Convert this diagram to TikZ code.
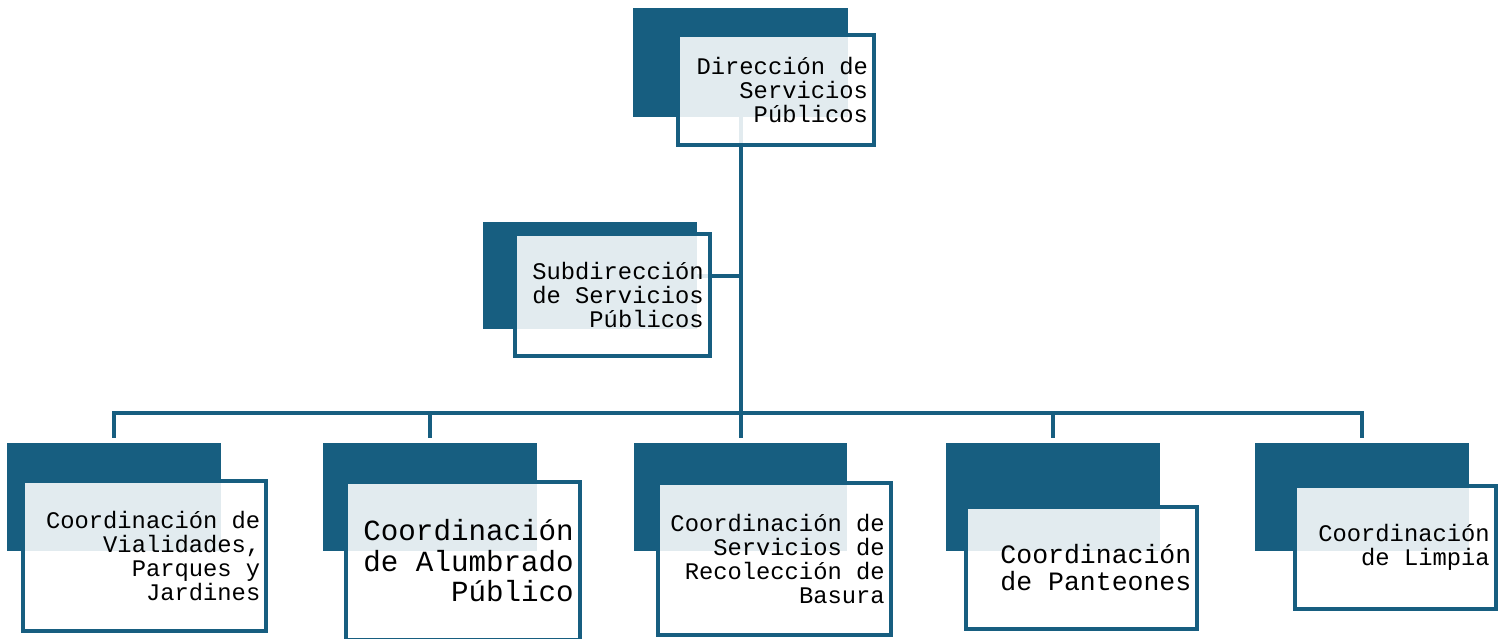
\documentclass[tikz,border=0pt]{standalone}
\usepackage{fontspec}
\usepackage{tikz}
\usetikzlibrary{backgrounds}
\newfontfamily\orgmono{Liberation Mono}
\definecolor{orgblue}{RGB}{23,94,128}
\newcommand{\monosize}[2]{\orgmono\fontsize{#1}{#2}\selectfont}

\begin{document}
\begin{tikzpicture}[x=1pt,y=-1pt,
        darkbox/.style={fill=orgblue,inner sep=0pt,outer sep=0pt,anchor=north west,
          minimum width=214pt,minimum height=108pt},
        lightbox/.style={draw=orgblue,line width=4pt,fill=white,fill opacity=0.88,
          text opacity=1,anchor=north west,inner sep=6pt,align=flush right,
          font=\monosize{23.8}{24.2}},
        conn/.style={draw=orgblue,line width=4pt}]
    \useasboundingbox (0,0) rectangle (1507,639);

      \node[darkbox,minimum width=215pt,minimum height=109pt] (dirD) at (633,8) {};
      \node[lightbox,text width=184pt,minimum height=110pt]   (dir)  at (676,33)
        {Dirección de\\Servicios\\Públicos};

      \node[darkbox,minimum height=107pt] (subD) at (483,222) {};
      \node[lightbox,text width=183pt,minimum height=122pt] (sub) at (512.7,232)
        {Subdirección\\de Servicios\\Públicos};

      \node[darkbox] (vialD) at (6.7,443) {};
      \node[lightbox,text width=231.6pt,minimum height=150.3pt] (vial) at (20.7,479)
        {Coordinación de\\Vialidades,\\Parques y\\Jardines};

      \node[darkbox] (alumD) at (322.7,443) {};
      \node[lightbox,text width=221.4pt,minimum height=158pt,
            font=\monosize{29.2}{30.5}] (alum) at (344.3,480)
        {Coordinación\\de Alumbrado\\Público};

      \node[darkbox,minimum width=213pt] (recD) at (634,443) {};
      \node[lightbox,text width=220.7pt,minimum height=151.7pt] (rec) at (656,481)
        {Coordinación de\\Servicios de\\Recolección de\\Basura};

      \node[darkbox] (pantD) at (945.7,443) {};
      \node[lightbox,text width=219pt,minimum height=121.7pt,
            font=\monosize{26.5}{27}] (pant) at (964.3,505)
        {Coordinación\\de Panteones};

      \node[darkbox] (limpD) at (1255.3,443) {};
      \node[lightbox,text width=189pt,minimum height=122.7pt] (limp) at (1292.7,484)
        {Coordinación\\de Limpia};

      \coordinate (bus) at (dirD.center |- 0,413.3);

      \begin{scope}[on background layer]
        \draw[conn] (dirD.center) -- (bus);
        \draw[conn] (subD.center) -- (subD.center -| bus);
        \draw[conn,shorten <=5.5pt,shorten >=5.5pt] (vialD.north) |- (bus) -| (limpD.north);
        \draw[conn,shorten >=5.5pt] (bus -| alumD.north) -- (alumD.north);
        \draw[conn,shorten >=5.5pt] (bus -| recD.north) -- (recD.north);
        \draw[conn,shorten >=5.5pt] (bus -| pantD.north) -- (pantD.north);
      \end{scope}
    \end{tikzpicture}
\end{document}
